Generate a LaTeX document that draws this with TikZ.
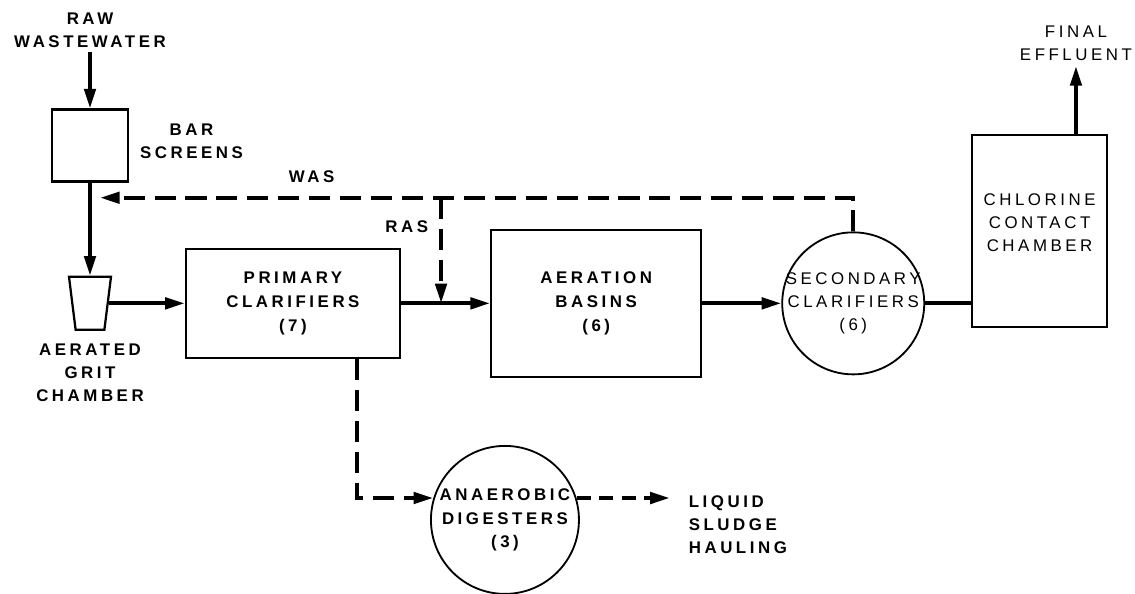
\documentclass[tikz,border=0pt]{standalone}
\usepackage{fontspec}
\usepackage{tikz}
\usetikzlibrary{arrows.meta,positioning,shapes.geometric}
\newfontfamily\flowfont{Liberation Sans}[LetterSpace=21]
\tikzset{
    unitbase/.style={
        draw=black,
        line width=1.6pt,
        align=center,
        inner sep=2pt,
        font=\flowfont\bfseries\fontsize{12}{17}\selectfont
    },
    tankbox/.style={unitbase, rectangle},
    thinbox/.style={tankbox, line width=1.3pt},
    tankcircle/.style={unitbase, circle, line width=1.3pt, inner sep=0pt},
    gritnode/.style={unitbase, trapezium, trapezium stretches=true,
        trapezium left angle=77, trapezium right angle=77, shape border rotate=180,
        minimum width=1.05cm, minimum height=1.325cm},
    tag/.style={align=center, font=\flowfont\bfseries\fontsize{12}{16.5}\selectfont},
    thintag/.style={tag, font=\flowfont\fontsize{12}{16.5}\selectfont},
    flow/.style={-{Triangle[length=14pt,width=8pt]}, line width=2.8pt},
    plainflow/.style={line width=2.8pt},
    sludge/.style={flow, dash pattern=on 15pt off 7pt},
    haulline/.style={flow, dash pattern=on 10pt off 6pt},
}

\begin{document}
\begin{tikzpicture}
    \useasboundingbox (0,0) rectangle (28.375,-14.825);
    % headworks
    \node[tankbox, minimum width=1.9cm, minimum height=1.8cm] (bars) at (2.25,-3.64) {};
    \node[tag, above=1.4cm of bars] (raw) {RAW\\WASTEWATER};
    \node[tag, right=0.15cm of bars, yshift=0.1cm] (barstag) {BAR\\SCREENS};
    \node[gritnode, below=2.325cm of bars] (grit) {};
    \node[tag, below=0.2cm of grit] (grittag) {AERATED\\GRIT\\CHAMBER};

    % main train
    \node[tankbox, minimum width=5.35cm, minimum height=2.725cm, right=1.9cm of grit] (primary) {PRIMARY\\CLARIFIERS\\(7)};
    \node[tankbox, minimum width=5.25cm, minimum height=3.675cm, right=2.225cm of primary] (aeration) {AERATION\\BASINS\\(6)};
    \node[tankcircle, minimum size=3.55cm, right=1.975cm of aeration,
        label={[thintag]center:SECONDARY\\CLARIFIERS\\(6)}] (secondary) {};
    \node[thinbox, minimum width=3.375cm, minimum height=4.8cm, right=1.15cm of secondary, yshift=1.81cm,
        label={[thintag, yshift=0.2cm]center:CHLORINE\\CONTACT\\CHAMBER}] (chlorine) {};
    \node[thintag, above=1.7cm of chlorine, xshift=0.91cm] (final) {FINAL\\EFFLUENT};

    % sludge
    \node[tankcircle, minimum size=3.7cm, below=2.15cm of primary, xshift=5.3cm,
        label={[tag]center:ANAEROBIC\\DIGESTERS\\(3)}] (digester) {};
    \node[tag, align=left, right=2.6cm of digester, yshift=-0.12cm] (liquid) {LIQUID\\SLUDGE\\HAULING};

    \coordinate[below right=0.375cm and 0.25cm of bars.south] (wasend);
    \coordinate[right=1.0cm of primary.east] (rasend);
    \coordinate (rastop) at (rasend |- wasend);
    \node[tag, above right=0.25cm and 4.6cm of wasend] (wastag) {WAS};
    \node[tag, above left=1.65cm and 0.2cm of rasend] (rastag) {RAS};

    \draw[flow] (raw) -- (bars);
    \draw[flow] (bars) -- (grit);
    \draw[flow] (grit) -- (primary);
    \draw[flow] (primary) -- (aeration);
    \draw[flow] (aeration) -- (secondary);
    \draw[plainflow] (secondary) -- (secondary -| chlorine.west);
    \draw[flow] (final.south |- chlorine.north) -- (final);
    \draw[sludge] (secondary) |- (wasend);
    \draw[sludge] (rastop) -- (rasend);
    \draw[sludge] ([xshift=1.6cm]primary.south) |- (digester.163);
    \draw[haulline, shorten >=3.5mm] (digester.17) -- (digester.17 -| liquid.west);
\end{tikzpicture}
\end{document}
